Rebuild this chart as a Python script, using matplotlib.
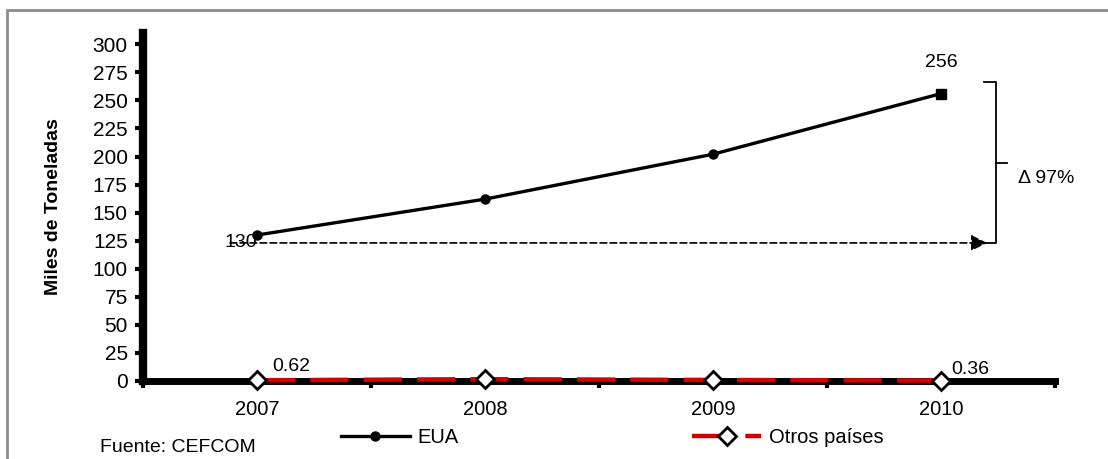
import matplotlib.pyplot as plt
from matplotlib.patches import Rectangle

years = ["2007", "2008", "2009", "2010"]
eua = [130, 162, 202, 256]
otros = [0.62, 1.6, 0.9, 0.36]
yticks = list(range(0, 301, 25))

plt.rcParams["font.family"] = ["Liberation Sans", "DejaVu Sans"]


def main():
    fig = plt.figure(figsize=(11.08, 4.59), dpi=100, facecolor="w")
    ax = fig.add_axes([0.129, 0.170, 0.823, 0.758])

    x = list(range(len(years)))

    # series
    ax.plot(x, eua, color="black", lw=2.4, marker="o", ms=6.5,
            label="EUA", zorder=4, clip_on=False)
    ax.plot(x[-1], eua[-1], color="black", marker="s", ms=7, zorder=5)
    ax.plot(x, otros, color="#d40000", lw=3.2, dashes=(8.6, 3.4),
            marker="D", ms=9, mfc="white", mec="black", mew=2,
            label="Otros países", zorder=5, clip_on=False)

    # axes styling
    ax.set_xlim(-0.5, 3.5)
    ax.set_ylim(0, 310)
    ax.set_yticks(yticks)
    ax.set_xticks(x)
    ax.set_xticklabels(years)
    ax.set_xticks([-0.5, 0.5, 1.5, 2.5, 3.5], minor=True)
    ax.tick_params(axis="x", which="major", length=0, pad=14, labelsize=14.5)
    ax.tick_params(axis="x", which="minor", length=5, width=3, direction="out")
    ax.tick_params(axis="y", length=6, width=3, labelsize=15, pad=5)
    for side in ("top", "right"):
        ax.spines[side].set_visible(False)
    ax.spines["left"].set_linewidth(6)
    ax.spines["bottom"].set_linewidth(5)
    ax.spines["bottom"].set_zorder(2)
    ax.set_ylabel("Miles de Toneladas", fontsize=14, fontweight="bold", labelpad=22)

    # value labels
    ax.text(-0.07, eua[0] - 7, str(eua[0]), fontsize=14, ha="center", va="center")
    ax.text(3.0, eua[-1] + 28, str(eua[-1]), fontsize=14, ha="center", va="center")
    ax.text(0.15, otros[0] + 12, "0.62", fontsize=14, ha="center", va="center")
    ax.text(3.13, otros[-1] + 10, "0.36", fontsize=14, ha="center", va="center")

    # growth arrow and bracket
    ax.annotate("", xy=(3.215, 123), xytext=(-0.13, 123),
                arrowprops=dict(arrowstyle="-|>", linestyle=(0, (4, 2)),
                                color="black", lw=1.2, mutation_scale=24))
    ax.plot([3.19, 3.24, 3.24, 3.19], [266, 266, 123, 123], color="black", lw=1.3,
            clip_on=False)
    ax.plot([3.24, 3.29], [194.5, 194.5], color="black", lw=1.3, clip_on=False)
    ax.text(3.34, 180, "Δ 97%", fontsize=14, ha="left", va="center")

    fig.legend(loc="center left", bbox_to_anchor=(0.2915, 0.046), ncol=2,
               frameon=False, fontsize=14.5, handlelength=3.4,
               columnspacing=11.6, handletextpad=0.4)

    fig.text(0.09, 0.006, "Fuente: CEFCOM", fontsize=14, va="bottom")

    # outer frame
    fig.patches.append(Rectangle((0.0065, -0.1), 1.2, 1.078,
                                 transform=fig.transFigure, fill=False,
                                 edgecolor="#8c8c8c", lw=2))

    fig.savefig("out.png", dpi=100)
    plt.close(fig)


if __name__ == "__main__":
    main()
